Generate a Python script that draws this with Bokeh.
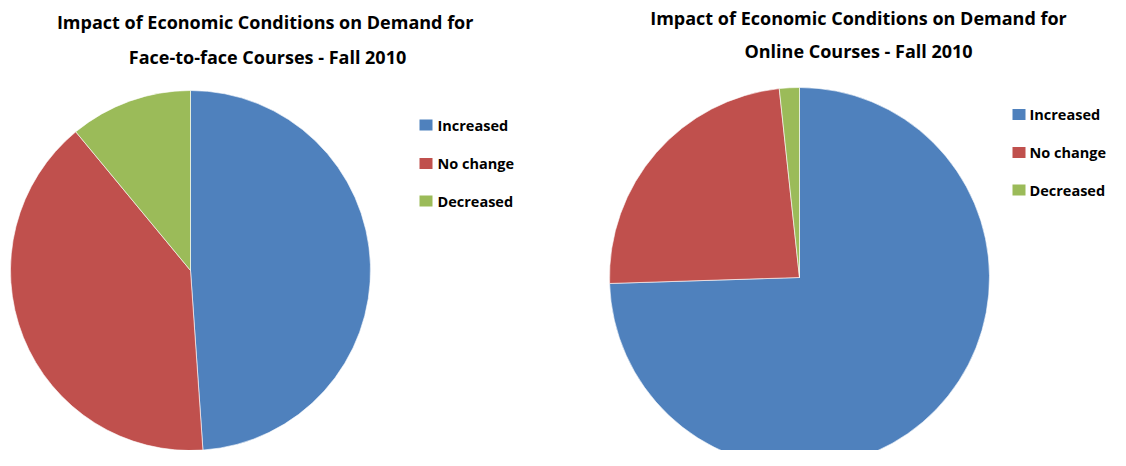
import numpy as np
from bokeh.plotting import figure
from bokeh.models import Range1d, ColumnDataSource
from bokeh.core.properties import value
from bokeh.embed import file_html
from bokeh.resources import INLINE

categories = ["Increased", "No change", "Decreased"]
face_to_face = [48.9, 40.1, 11.0]
online = [74.5, 23.8, 1.7]
colors = ["#4F81BD", "#C0504D", "#9BBB59"]
title_left = ["Impact  of Economic Conditions on Demand for", "Face-to-face Courses - Fall 2010"]
title_right = ["Impact of Economic Conditions on Demand for", "Online Courses - Fall 2010"]

W, H = 1110, 450
REF_H = 466
FONT = "Open Sans"

p = figure(width=W, height=H, x_range=Range1d(0, W), y_range=Range1d(REF_H - H, REF_H),
           output_backend="svg", toolbar_location=None, min_border=0)
p.axis.visible = False
p.grid.visible = False
p.outline_line_color = None
p.background_fill_color = "white"
p.border_fill_color = "white"


def Y(y):
    return REF_H - y


def pie(vals, cx, cy, r):
    fr = np.array(vals, dtype=float) / sum(vals)
    cum = np.concatenate([[0.0], np.cumsum(fr)])
    start = np.pi / 2 - 2 * np.pi * cum[:-1]
    end = np.pi / 2 - 2 * np.pi * cum[1:]
    src = ColumnDataSource(dict(start=start, end=end, color=colors, cat=categories))
    p.wedge(x=cx, y=Y(cy), radius=r, start_angle="start", end_angle="end",
            direction="clock", fill_color="color", line_color="white",
            line_width=0.6, source=src)


def legend(x0, ys, gap):
    p.rect(x=[x0 + 6.5] * 3, y=[Y(v) for v in ys], width=13, height=11,
           width_units="screen", height_units="screen",
           fill_color=colors, line_color=None)
    p.text(x=[x0 + gap] * 3, y=[Y(v) for v in ys], text=categories,
           text_font=value(FONT), text_font_style="bold", text_font_size="14.5px",
           text_align="left", text_baseline="middle", text_color="black")


def title(lines, cx, centers):
    p.text(x=[cx] * len(lines), y=[Y(b) for b in centers], text=lines,
           text_font=value(FONT), text_font_style="bold", text_font_size="18px",
           text_align="center", text_baseline="middle", text_color="black")


pie(face_to_face, 190, 270, 180)
pie(online, 799, 277, 190)
legend(419, [124.5, 163, 200.5], 18)
legend(1012, [114, 152, 189.5], 17)
title(title_left, 267, [21, 56])
title(title_right, 858, [17, 50])

open("out.html", "w").write(file_html(p, INLINE))
